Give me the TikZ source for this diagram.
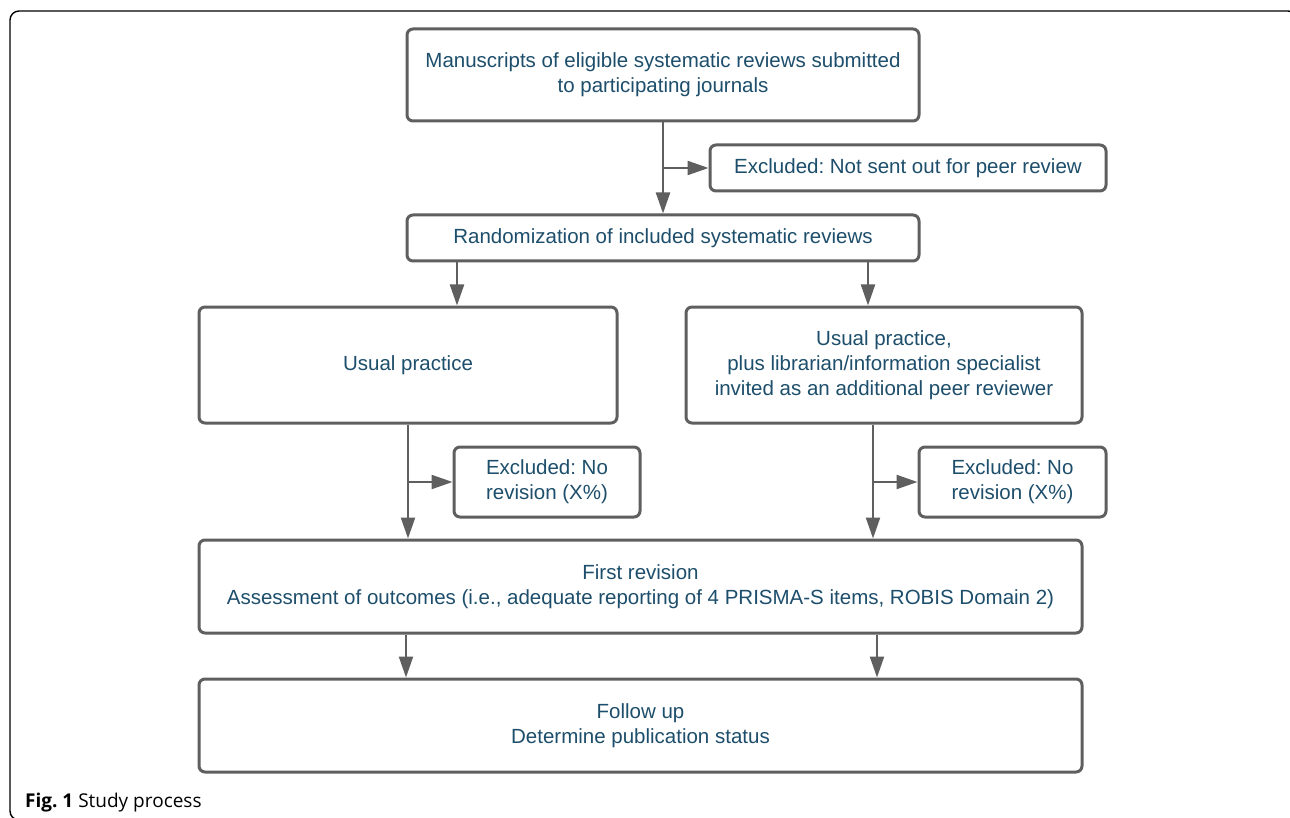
\documentclass[tikz,border=0pt]{standalone}
\usepackage{fontspec}
\setmainfont{Liberation Sans}
\newfontfamily\capfont{Open Sans}
\usetikzlibrary{arrows.meta}
\definecolor{boxgray}{HTML}{5F5F5F}
\definecolor{txtblue}{HTML}{1D4E6B}
\frenchspacing
\begin{document}
\begin{tikzpicture}[x=1pt,y=-1pt,
  box/.style={draw=boxgray,line width=3pt,rounded corners=6pt,inner sep=0pt,
    align=center,text=txtblue,font=\fontsize{20.5}{25}\selectfont},
  arr/.style={draw=boxgray,line width=2.2pt,-{Triangle[length=21pt,width=14pt]}},
  ln/.style={draw=boxgray,line width=2pt}]
\useasboundingbox (0,0) rectangle (1290,818);
\clip (0,0) rectangle (1290,818);
\fill[white] (0,0) rectangle (1290,818);
\draw[black,line width=1.4pt,rounded corners=9pt] (10,11) rectangle (1297,820);

\node[box,minimum width=512pt,minimum height=92pt] (ms) at (663,75)
  {Manuscripts of eligible systematic reviews submitted\\to participating journals};
\node[box,minimum width=396pt,minimum height=46pt] (ext) at (908,168)
  {Excluded: Not sent out for peer review};
\node[box,minimum width=512pt,minimum height=46pt] (rand) at (663,238)
  {Randomization of included systematic reviews};
\node[box,minimum width=418pt,minimum height=116pt] (up) at (408,365)
  {Usual practice};
\node[box,minimum width=396pt,minimum height=116pt] (upl) at (884,365)
  {Usual practice,\\plus librarian/information specialist\\invited as an additional peer reviewer};
\node[box,minimum width=186pt,minimum height=70pt] (exl) at (547,482)
  {Excluded: No\\revision (X\%)};
\node[box,minimum width=187pt,minimum height=70pt] (exr) at (1012.5,482)
  {Excluded: No\\revision (X\%)};
\node[box,minimum width=883pt,minimum height=93pt] (fr) at (640.5,586.5)
  {First revision\\Assessment of outcomes (i.e., adequate reporting of 4 PRISMA-S items, ROBIS Domain 2)};
\node[box,minimum width=883pt,minimum height=93pt] (fu) at (640.5,725.5)
  {Follow up\\Determine publication status};

\coordinate (c1) at (663,168);
\coordinate (c2) at (457,0);
\coordinate (c3) at (868,0);
\coordinate (c4) at (408,482);
\coordinate (c5) at (873,482);
\coordinate (c6) at (406,0);
\coordinate (c7) at (877,0);

\draw[arr] (ms.south) -- (rand.north);
\draw[arr] (c1) -- (ext.west);
\draw[arr] (rand.south -| c2) -- (up.north -| c2);
\draw[arr] (rand.south -| c3) -- (upl.north -| c3);
\draw[arr] (up.south -| c4) -- (fr.north -| c4);
\draw[arr] (c4) -- (exl.west);
\draw[arr] (upl.south -| c5) -- (fr.north -| c5);
\draw[arr] (c5) -- (exr.west);
\draw[arr] (fr.south -| c6) -- (fu.north -| c6);
\draw[arr] (fr.south -| c7) -- (fu.north -| c7);

\node[anchor=base west,inner sep=0pt,font=\capfont\fontsize{19}{22}\selectfont] (cap) at (25,807)
  {\textbf{Fig. 1} Study process};
\end{tikzpicture}
\end{document}
